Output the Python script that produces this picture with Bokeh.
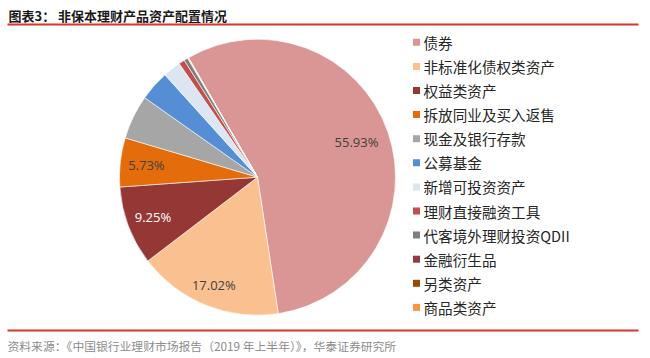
import numpy as np
from bokeh.plotting import figure
from bokeh.models import Range1d, ColumnDataSource
from bokeh.core.properties import value
from bokeh.embed import file_html
from bokeh.resources import INLINE

# ---- data ----
categories = ["债券", "非标准化债权类资产", "权益类资产", "拆放同业及买入返售",
              "现金及银行存款", "公募基金", "新增可投资资产", "理财直接融资工具",
              "代客境外理财投资QDII", "金融衍生品", "另类资产", "商品类资产"]
shares = [55.93, 17.02, 9.25, 5.73, 5.17, 3.53, 2.10, 0.70, 0.45, 0.06, 0.04, 0.02]
colors = ["#D99694", "#FAC090", "#953735", "#E46C0A", "#A6A6A6", "#558ED5",
          "#DCE6F2", "#C0504D", "#7F7F7F", "#943B45", "#984807", "#F79646"]
labeled = [0, 1, 2, 3]
label_colors = ["#404040", "#404040", "#FFFFFF", "#404040"]
title_text = "图表3：  非保本理财产品资产配置情况"
source_text = "资料来源：《中国银行业理财市场报告（2019 年上半年）》，华泰证券研究所"

# ---- layout ----
W, H = 650, 358
CX, CY, R = 257, 181.3, 138
START = 120.0
label_rf = [0.76, 0.845, 0.81, 0.81]
LEG_X, LEG_Y0, LEG_DY = 416, 316.2, 24.1

p = figure(width=W, height=H, output_backend="svg", toolbar_location=None,
           x_range=Range1d(0, W), y_range=Range1d(0, H),
           x_axis_type=None, y_axis_type=None, min_border=0)
p.outline_line_color = None
p.grid.visible = False
p.background_fill_color = "white"

vals = np.array(shares, dtype=float)
frac = vals / vals.sum()
cum = np.concatenate([[0], np.cumsum(frac)])
starts = START - cum[:-1] * 360
ends = START - cum[1:] * 360
src = ColumnDataSource(dict(s=starts, e=ends, c=colors))
p.wedge(x=CX, y=CY, radius=R, start_angle="s", end_angle="e", direction="clock",
        start_angle_units="deg", end_angle_units="deg",
        fill_color="c", line_color="white", line_width=0.6, source=src)

# percent labels
lx, ly, lt = [], [], []
for k, i in enumerate(labeled):
    mid = np.deg2rad((starts[i] + ends[i]) / 2)
    lx.append(CX + R * label_rf[k] * np.cos(mid))
    ly.append(CY + R * label_rf[k] * np.sin(mid))
    lt.append(f"{shares[i]:.2f}%")
p.text(x=lx, y=ly, text=lt, text_color=label_colors, text_align="center",
       text_baseline="middle", text_font=value("Open Sans"), text_font_size="13px")

# legend
ys = [LEG_Y0 - LEG_DY * i for i in range(len(categories))]
p.scatter(x=[LEG_X] * len(categories), y=ys, marker="square", size=7,
          fill_color=colors, line_color=None)
p.text(x=[LEG_X + 7] * len(categories), y=ys, text=categories, text_color="#262626",
       text_align="left", text_baseline="middle",
       text_font=value("Noto Sans CJK SC"), text_font_size="14.6px")

# title, rules, source
p.text(x=[8], y=[343.5], text=[title_text], text_color="#1A1A1A", text_align="left",
       text_baseline="middle", text_font=value("Noto Sans CJK SC"),
       text_font_size="13px", text_font_style="bold")
p.segment(x0=[7, 7], y0=[334, 28], x1=[638, 638], y1=[334, 28],
          line_color="#D8352C", line_width=2)
p.text(x=[7], y=[13], text=[source_text], text_color="#8C8C8C", text_align="left",
       text_baseline="middle", text_font=value("Noto Sans CJK SC"),
       text_font_size="11.8px")

open("out.html", "w").write(file_html(p, INLINE))
